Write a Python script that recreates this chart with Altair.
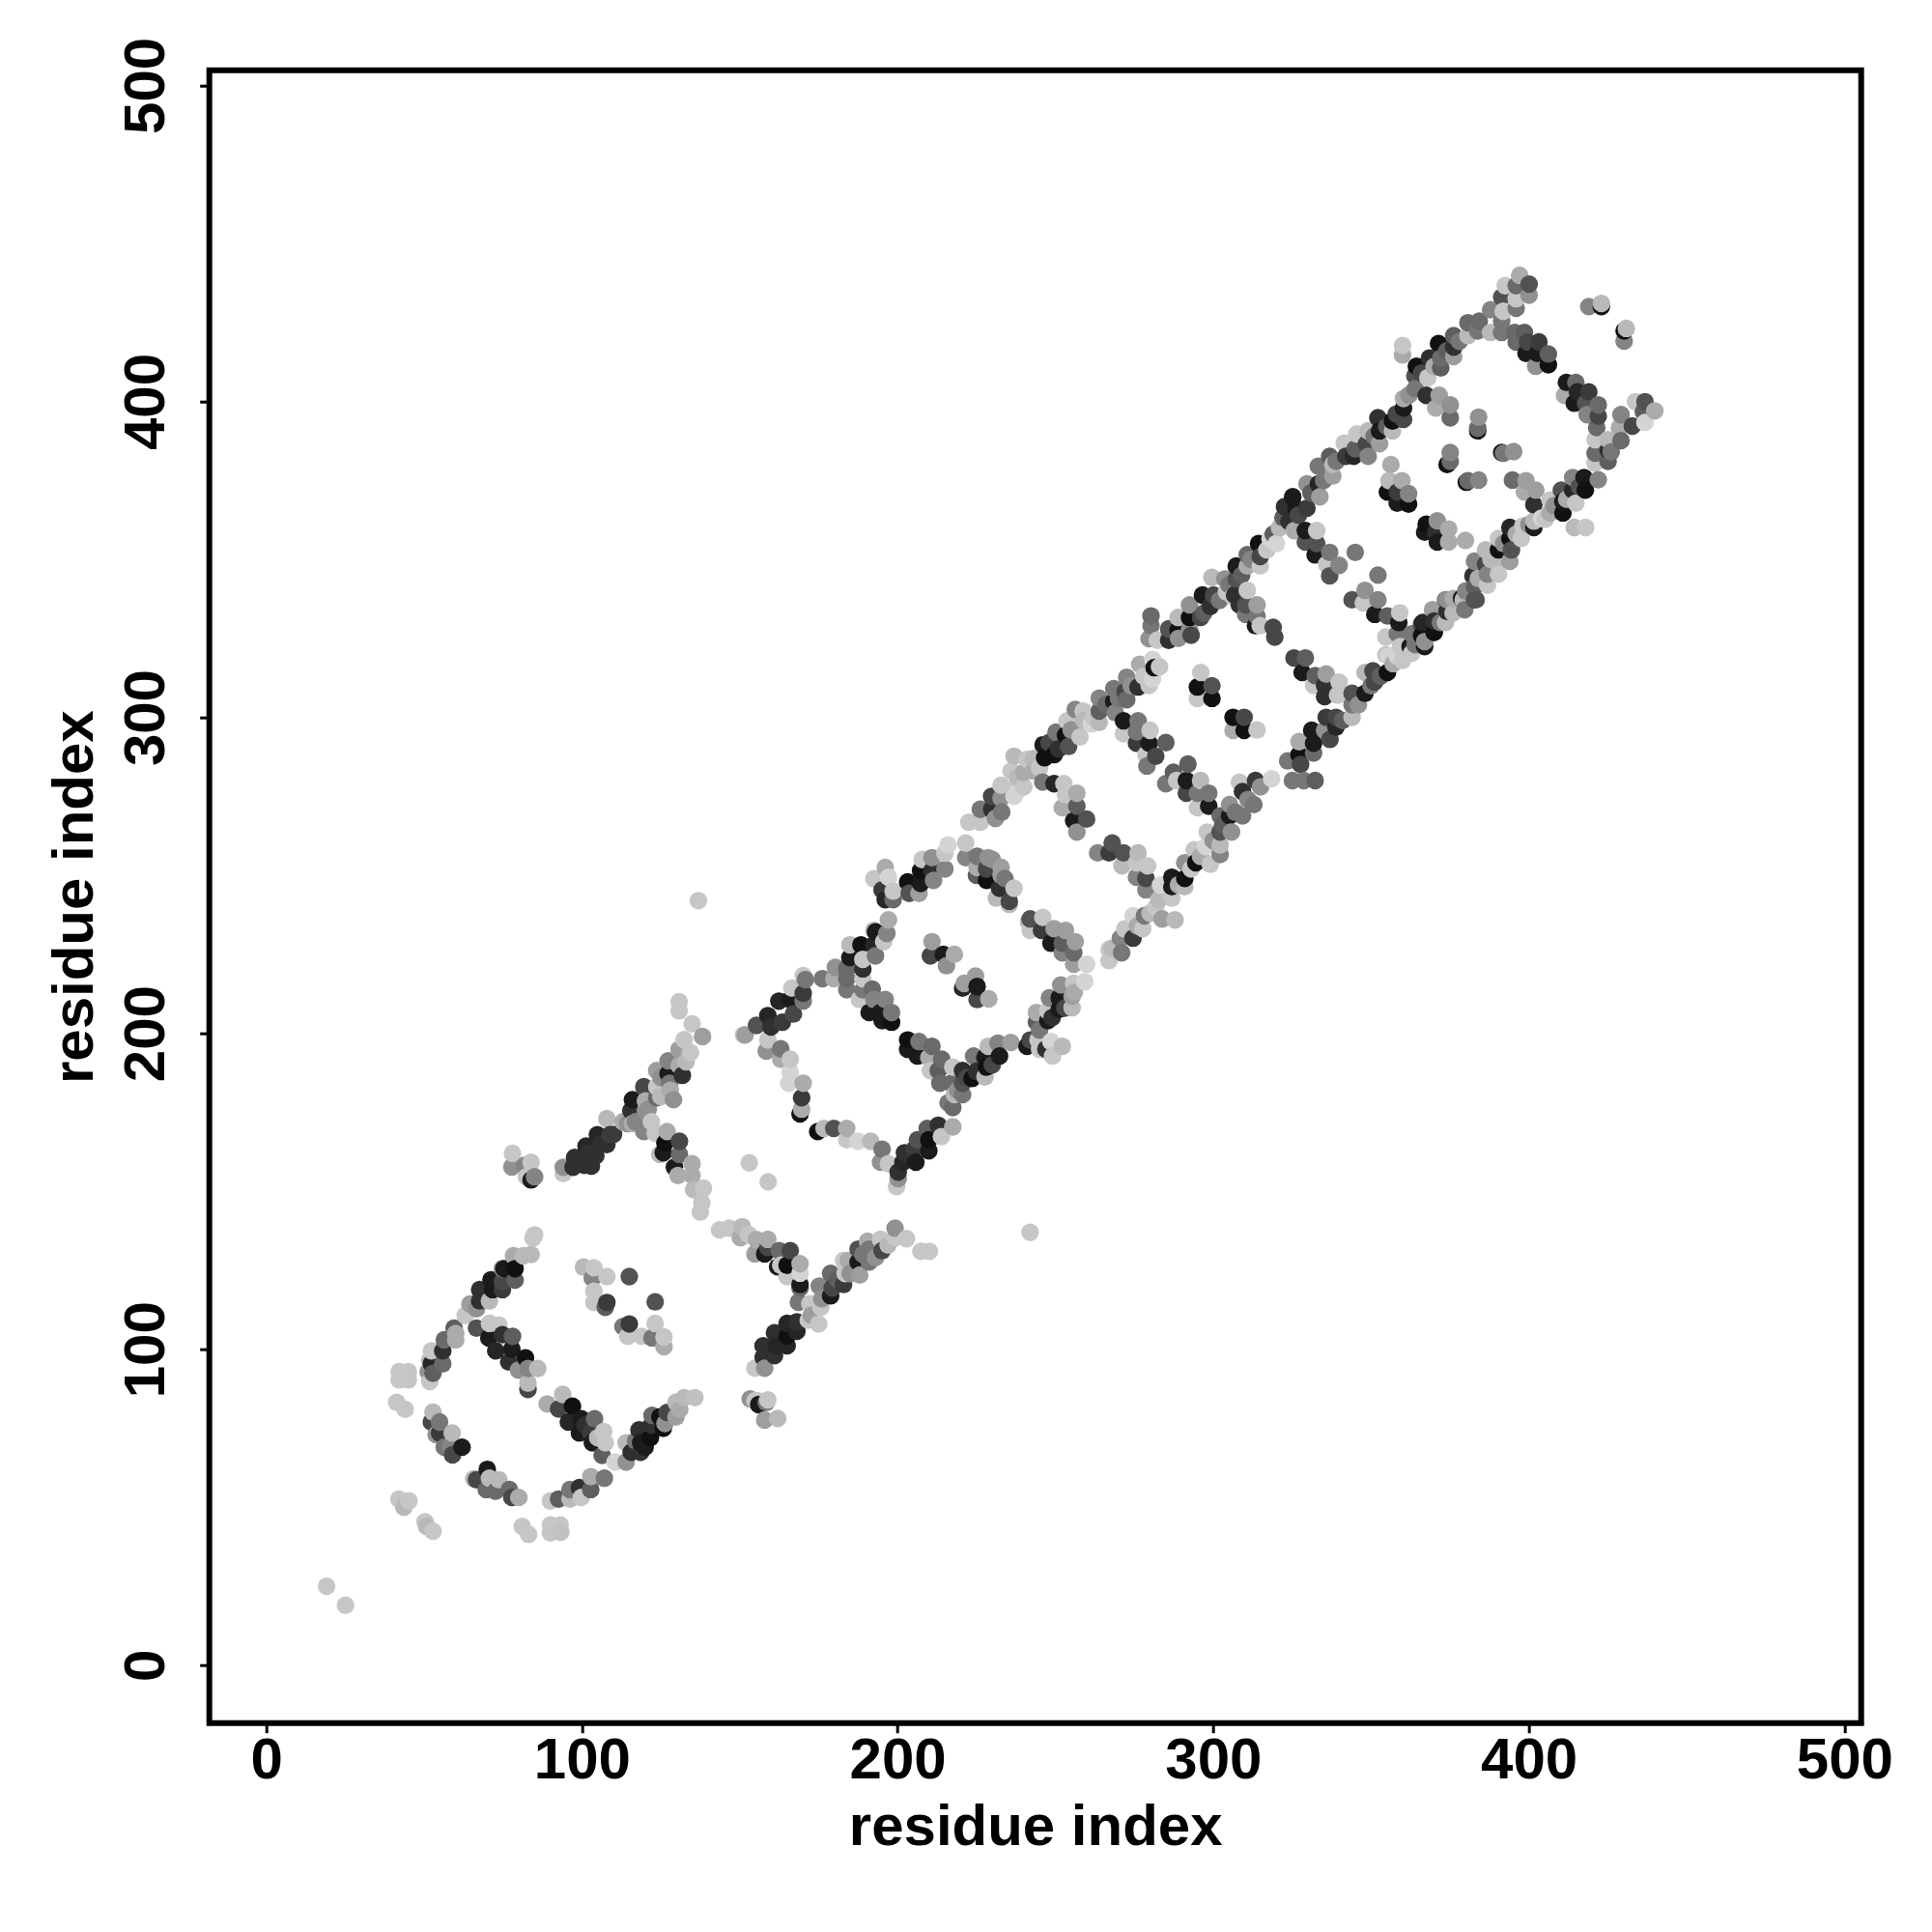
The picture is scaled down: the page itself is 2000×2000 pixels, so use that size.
import altair as alt
import pandas as pd

# (residue x, residue y, grey level), region by region
tail = [(19.1,25,.8),(25.1,19,.8),(42,52.6,.8),(45.2,52,.8),(43.6,50,.75),(50.3,45.4,.8),(52.8,42.4,.8),(50.8,44,.75),
 (81.1,43.9,.8),(83.1,41.4,.8),(90,44.4,.8),(93.1,44.4,.8),(90,41.9,.8),(93.3,42.1,.78),
 (42.1,92.9,.8),(45,92.9,.8),(42.1,90.3,.8),(45,90.3,.8),(41.3,83.2,.8),(44,81,.8)]
d1_bottom = [(65.7,59,.75),(66.6,58.7,.3),(70,62,.1),(69.7,55.6,.45),(70.7,59.2,.75),(73.7,58.7,.75),(72.7,55.1,.45),(77,55.6,.45),(77.8,53.1,.3),(80,53.1,.7),
 (90,52,.8),(92.6,52.6,.4),(96.2,52.6,.75),(99.8,53.1,.8),(96.2,55.6,.5),(99.2,56.2,.2),(102.8,59.7,.7),(102.8,55.6,.4),(107.1,59.2,.5)]
d1_left = [(52.8,80.1,.75),(52.3,77,.3),(54.9,77,.5),(53.8,73,.6),(54.9,73.5,.25),(56.4,69,.5),(58.9,73.5,.75),(58.4,69.4,.55),(59,66.6,.3),(62,69,.1),
 (51.8,89.8,.8),(51.3,92.9,.6),(52.8,92.4,.4),(52.3,95.4,.15),(51.8,96.5,.75),(55.9,95.4,.45),(55.9,99.5,.2),(52.3,99.5,.8),(56.4,103,.45),(59.5,106.7,.4),(60,105,.7),(60,103,.7),
 (64.5,114.3,.65),(63,110.7,.8),(66.6,106.7,.35),(66.6,112.8,.6),(67.6,118.9,.2),(67.6,115.3,.2),(70.7,115.3,.75),(71.2,122,.1),(71.7,118.9,.1),(74.8,118.9,.25),(74.8,121.4,.3),(74.8,125.5,.6),(75.3,125.5,.1),(78.8,125.5,.05),(78.8,121.9,.4),(78.3,129.6,.7),(81.4,129.6,.75),(83.9,130,.75),(84.5,135.2,.8),(85,136.2,.8)]
d1_down = [(70.7,108.2,.8),(73.7,107.7,.8),(70.5,103.6,.1),(74.8,104.6,.2),(78,104.1,.4),(72.7,99.5,.15),(77.8,100,.1),(76.8,96,.2),(82.1,97.3,.05),(79.9,93.4,.6),(82.9,93.9,.55),(86,93.9,.75),(82.9,87.3,.3),(82.9,89.3,.75),
 (89,82.7,.7),(93.9,85.7,.75),(92.6,81.1,.3),(97,82,.05),(95.7,77,.15),(99.8,78,.1),(104,78,.45),(99.2,73.5,.1),(102.8,73.5,.25),(103.3,70.4,.1),(106.9,74,.8),(107.4,70.4,.8),(106.4,66.4,.4),(110.5,64.3,.85),(114,64.3,.6),(114,70.4,.75),(115.6,67.4,.2),(118.6,67.4,.2),(118.1,74.5,.2),(121.7,72,.05),(118.6,70.4,.1),(122.2,79.1,.45),(124.7,78.6,.05),(125.8,75,.05),(126.3,76.5,.6),(129.8,83.2,.75),(129.8,78.6,.65),(132.4,84.7,.75),(135.8,84.7,.78)]
d1_centre = [(100.5,126,.75),(103.8,125.8,.8),(103.3,122.5,.55),(107.9,123,.8),(115,123,.35),(103.8,118.4,.8),(103.8,114.8,.8),(107.4,113.3,.4),(107.9,114.8,.25),(123.2,115,.35),(113,107.2,.5),(115,108,.25),(114.5,104.1,.8),(118.9,104.1,.8),(123.2,108.2,.8),(122.2,103.6,.5),(126,100.8,.7),(126,103.9,.8)]
d2_first = [(78,162,.8),(77.8,157.7,.6),(81.9,158.2,.55),(83.9,159.2,.8),(82.4,154.6,.8),(83.9,153.6,.1),(85,154.6,.55),
 (94.1,155.6,.8),(94.1,157.6,.6),(97.2,157.6,.2),(97.7,160.7,.2),(100.8,158.2,.2),(101.3,164.3,.15),(104.4,161.2,.2),(104.9,167.9,.15),(107.9,164.8,.2),(108.9,167.9,.25),(107.9,173,.75),
 (114.5,171.4,.6),(116,171.4,.7),(119.6,168.9,.55),(123.2,168.4,.8),(127,168.9,.7),(126.3,165.3,.05),(130.9,165.8,.3),(125.8,162.2,.1),(124.7,161.7,.75),(130.9,161.7,.45),(129.3,157.6,.1),(134.9,158.7,.7),(130.4,155,.7),(134.9,155,.7),(135.4,150.5,.75),(138.5,151,.8),(138,146.4,.8),(137.5,143.4,.8),
 (130.8,210,.8),(130.8,207.1,.8),(134.9,203,.8),(138.2,199,.65),(132.4,198,.8),(130.8,194.9,.65),(134.4,193.9,.8),(127.3,191.3,.55),(130.8,189.8,.7),(123.7,188.2,.65),(127.3,187.2,.1),(131.8,186.7,.2),(127.8,184.2,.5),(119.6,183.1,.3),(123.7,183.1,.8),(123.7,179.6,.45),(116,179,.1),(120.1,178.6,.7),(120.1,175.5,.6),(115.5,175.5,.2)]
isolated = [(136.9,242,.8),(153,159,.8),(159,153,.8),(242,137,.8)]
mid_left = [(143.6,137.8,.8),(146.7,138.3,.8),(150.8,138.8,.75),(150.2,135.3,.7),(152.8,136.3,.8),(155.3,134.7,.7),(158.9,134.8,.7),(154.8,130.2,.65),(157.9,130.2,.1),(158.9,132.2,.3),(162.5,131.2,.45),(166,131.2,.3),(162,126.1,.1),(163,126.6,.8),(165,126.6,.05),(169.1,127.1,.7),(165,123,.8),(169.1,120.5,.1),(169.1,124.1,.85),(169.1,119.4,.45)]
mid_right = [(175.2,120,.55),(168.6,114.9,.5),(172.2,114.4,.8),(172.7,110.8,.65),(175.7,113.3,.8),(178.8,124,.45),(179.3,119.4,.3),(178.8,116.9,.1),(182.9,120.5,.25),(183.4,124,.8),(188,123.5,.65),(182.9,128.1,.8),(184.4,128.1,.7),(187.5,127.6,.1),(187.5,131.7,.35),(191,127.6,.5),(191,131.7,.5),(195.1,131.2,.3),(190.5,134.2,.7),(194.6,134.8,.8),(199.2,138.3,.6),(199.2,135.3,.8),(202.8,135,.8),(207.4,131,.8),(210.1,131,.8)]
mid_dark = [(168.1,105.7,.15),(168.1,108.7,.2),(165,108.2,.15),(165,104.2,.05),(161,105.2,.2),(165,101.1,.15),(161.5,101.1,.15),(157.4,101.1,.2),(161,98,.2),(157.4,97.5,.2),(154.8,94,.8),(157.9,94,.6),(171.7,109.2,.8),(175,108,.8),
 (153.3,84.3,.6),(154.8,83.7,.8),(155.9,83.7,.8),(156,82.5,.1),(158.4,83.2,.5),(158.9,84,.8),(157.9,77.6,.65),(162,78.1,.75)]
d2_upper = [(151.2,199.5,.8),(151.7,199.5,.65),(155.3,202.5,.35),(158.9,205.6,.15),(159.9,202,.2),(163.5,203.5,.25),(162.4,210.2,.15),(166,210.7,.1),(167,206.1,.3),(166.5,214.3,.8),(170.1,210.2,.5),(170.1,212.7,.25),(170.1,218.3,.8),(170.8,217,.5),
 (176.2,217.3,.5),(179.8,217.3,.7),(180.3,220.9,.6),(183.9,220.4,.45),(183.9,217.3,.45),(183.9,213.8,.5),(184.9,228,.75),(184.9,224,.1),(188.4,228,.05),(189,223.4,.8),(189,220.4,.2),(189,217.3,.8),(192.5,232.6,.75),(193,232.1,.1),(192.5,228,.15),(193,224.5,.5),(195.6,229,.8),(196.6,231.6,.55),(197.1,235.9,.7)]
d2_left = [(158.9,197.9,.8),(158.4,194.4,.6),(163,195.1,.5),(166,191.8,.8),(163,191.8,.7),(166,187.7,.85),(165.5,184.2,.85),(170.1,184.2,.7),(169.6,179.6,.25),(169.6,176,.7),(169.1,174.5,.05),
 (174.7,168.9,.05),(176.7,169.9,.75),(179.8,169.9,.35),(183.9,169.9,.7),(183.9,166.3,.8),(187.4,165.8,.85),(191.5,165.8,.75),(195.1,163.3,.5),(194.6,159.2,.6),(197.1,158.7,.8),(199.7,151.5,.8),(200.2,154,.6),(200.2,156.1,.2),(202.2,162.2,.2),(201.7,159.2,.15),(205.8,159.2,.1),(205.3,163.3,.25),(209.9,162.8,.1),(206.3,166.3,.35),(209.9,166.3,.05),(209.4,169.9,.4),(212.9,170.9,.2),(213.9,167.3,.8),(217.5,170.4,.7)]
d2_down = [(189,213.8,.5),(192,214,.45),(187.9,210.7,.8),(192.5,210.7,.55),(196.1,210.7,.55),(191,206.6,.1),(194.6,206.6,.1),(198.1,206.6,.5),(195.1,204,.1),(198.1,203.5,.05),
 (203.2,197.9,.05),(203.2,194.9,.1),(206.3,192.8,.1),(206.8,197.4,.5),(210.9,195.9,.45),(209.9,192.3,.7),(214,191.8,.45),(212.9,188.2,.4),(210.4,188.2,.8),(217.5,189.3,.8),
 (217.5,176.5,.45),(218,180.6,.75),(220.6,180.6,.5),(213.4,184.2,.45),(217,184.2,.45),(220.6,188.2,.2),(223.6,185.7,.05),(220.6,184.2,.35),(227.7,186.2,.75),(224.1,192.8,.5),(228.2,189.3,.05),(227.7,192.3,.1),(232.3,192.8,.1),(228.7,195.9,.75),(231.8,196.9,.55),(235.9,197.1,.65)]
d2_centre = [(210.9,229,.65),(210.4,224.5,.3),(214.5,225,.1),(218,225,.7),(215.5,221.4,.6),(224.7,218.1,.65),(221.1,215.8,.65),(220.6,214.3,.15),(225.2,214.8,.1),(225.2,210.7,.3),(228.9,210.9,.7)]
d3_upper = [(192.5,248.9,.8),(196.1,252.5,.7),(197.1,249.4,.85),(195.1,245.4,.25),(196.1,242.3,.15),(198.6,245,.8),(198.6,242.3,.45),(203.2,247.9,.05),(203.7,244.3,.35),(206.8,244.3,.65),(207.3,247.4,.1),(207.3,251.5,.05),(207.8,255,.8),(210.9,255.6,.6),(210.9,251.5,.2),(211.4,248.4,.55),(215,252,.55),(215,257,.8),(216,259.6,.85),
 (222.6,266.8,.8),(226.2,266.8,.8),(226.2,270.9,.5),(229.8,270.9,.2),(229.8,275,.3),(232.8,274.4,.6),(236.9,275,.85),(232.8,278.5,.8),(237.4,278,.8)]
d3_down = [(221.6,260.2,.8),(221.6,255.6,.55),(225.2,256,.5),(228.7,255.6,.6),(225.2,252.5,.7),(228.2,252,.3),(232.8,252.5,.65),(228.2,248.4,.05),(232.3,245.9,.2),(232.8,250,.65),(236.9,245.9,.8),(231.3,242.8,.75),(235.4,241.8,.3),(235.4,240.8,.75),
 (242,236.2,.35),(241.5,235.2,.75),(246,236.7,.8),(242,232.6,.8),(245.6,232.6,.25),(249.6,233.1,.65),(253.2,232.6,.65),(248.6,228.5,.1),(252.2,228.5,.4),(256.3,229,.65),(252.2,225.5,.55),(255.8,225.5,.45),(255.8,221.9,.65),(259.9,221.9,.85)]
d3_lower = [(259.3,216.3,.85),(255.8,215.8,.8),(251.7,215.3,.6),(255.3,211.7,.65),(248.1,211.2,.55),(251.2,211.2,.1),(255.3,208.1,.75),(251.2,207.6,.1),(244,206.6,.7),(247.6,207.1,.8),(247.6,204,.1),(244,203.6,.4),
 (242,197.9,.3),(241,195.9,.1),(244.5,197.9,.8),(248.6,197.4,.85),(245,194.9,.8),(247,195,.2),(252.2,195.9,.75),(249.1,192.8,.8),(267,226.5,.8),(267,223,.8),(271,225.5,.5),(270.6,230.1,.55),(274.6,230.1,.25),(277.7,233.1,.8),(274.6,237.2,.85),(278.2,237.2,.5),(281.8,239.8,.8),(283.8,236.2,.65),(287.9,235.9,.75),(282.8,242.3,.75),(286.9,242.8,.8),(283.3,246.9,.85),(286.9,246.4,.1),(291,246.4,.75),(286.9,249.4,.1),(291,249,.05),(291,254,.6),(294.5,254,.05),(294,258.1,.8),(299.1,253.5,.8),(297.6,259.1,.85),(302.2,256.6,.55),(302.2,259.6,.75),(298.1,263.7,.8),(302.2,263.7,.35),(305.8,263.7,.6),(305.2,268.8,.1),(302.2,268.8,.45),(309.3,268.8,.5),(305.2,272.4,.6),(312.9,272.4,.5),(309.3,276.5,.2),(308.3,279.5,.8),(313.4,280,.25),(318.5,280.6,.85)]
d3_top = [(236.9,287.7,.75),(241,286.7,.8),(237.9,276.5,.85),(240,282.6,.7),(246.1,291.3,.1),(246.6,287.2,.05),(249.6,288.2,.05),(250.2,295.3,.5),(253.7,298.9,.8),(253.2,294.3,.05),(254.2,290.8,.35),(257.8,293.8,.8),(256.3,302.5,.55),(258.8,302,.8),(261.4,297.9,.85),(263.9,306.1,.55),(263.9,302,.4),(263.9,298.4,.75),(268.5,309.1,.5),(268.5,305,.1),(269,301.5,.55),(272.6,312.7,.55),(272.1,308.1,.3),(272.6,305.6,.45),(276.7,316.8,.7),(276.2,309.6,.2),(280.8,318.3,.85),(281.3,315.7,.05),(280.8,312.2,.85),(279.7,310.1,.8),
 (246,279.5,.5),(249.6,279,.15),(252.7,279,.8),(253.2,275.5,.8),(256.8,276,.7),(252.2,271.4,.7),(256.8,271.9,.4),(255.8,267.3,.1),(259.9,267.8,.35),(256.8,263.7,.6)]
d3_band = [(263.4,257.1,.55),(268,260.2,.35),(267,257.1,.25),(271.6,257.1,.35),(276.2,257.1,.75),(271.1,253,.75),(275.7,254,.8),(279.2,253,.8),(275.7,249.4,.55),(278.7,249,.3),(278.7,245.4,.55)]
d3_left = [(271.6,298.9,.1),(276.2,298.9,.5),(271.6,294.8,.8),(275.7,295.4,.5),(275.7,291.8,.25),(280,295.9,.8),(279.7,291.8,.1),(285,292,.4),(278.7,288.2,.8),(281.8,287.7,.3),(279,284.6,.5),
 (292,285.2,.4),(287.4,282.6,.4),(285,279,.5),(288.4,280,.8),(291.5,280,.1),(291.5,276,.3),(296,280,.75),(298.6,276,.5),(295,276,.5),(298.6,271.9,.1),(295,271.4,.8)]
d3_centre = [(296.1,314.2,.8),(295,309.6,.05),(299.6,310,.35),(295,306,.8),(299.6,306,.05),(306.3,300,.05),(309.8,300,.3),(306.3,295.9,.7),(309.8,295.9,.05),(313.9,296,.8)]
d4_upper = [(280.3,332.1,.45),(280.3,329,.5),(279.7,324.9,.6),(282.3,324.4,.8),(285.9,324.4,.2),(285.9,328,.35),(288.9,327.5,.05),(288.9,331.6,.75),(292.5,328,.6),(292.5,331.6,.05),(296,331.6,.3),(292.5,335.6,.6),(296.6,338.7,.1),(299.1,335.1,.2),(300.1,338.7,.3),(299.6,344.3,.75),(303.7,343.8,.6),(307.3,343.8,.35),(307.3,347.9,.1),(304.2,339.7,.8),(306.8,338.7,.2),(310.8,351.5,.45),(310.8,347.9,.7),(314.9,347.9,.8),(314.9,350.9,.3),(314.4,355,.05),(318,356.5,.85),(320,355,.85),(322.1,363.2,.4),(322.6,366.7,.2),
 (325.2,369.8,.1),(329.7,373.9,.6),(326.2,366.2,.1),(329.7,366.2,.25),(333.8,369.8,.65),(333.3,373.9,.15),(333.3,379.5,.5),(336.9,382.6,.4),(337.9,380,.75),(337.9,376.4,.65),(342,382.6,.25),(344.5,382.6,.15),(349.1,382.6,.55),(341.5,386.8,.8),(345.5,389.7,.8),(348.6,386.6,.3),(352.7,386.6,.65),(349.1,390.7,.75),(352.2,394.8,.2),(352.7,390.7,.1),(356.8,393.8,.05),(360.3,394.3,.3),(356.8,390.7,.75),(360.3,397.9,.1),(360.3,400.9,.7),(364.4,411.1,.05),(368,407.5,.8),(363.9,408.1,.35),(372.1,410.6,.4),(368.5,413.7,.2),(372.1,413.7,.45),(376.2,414.2,.65),(371.4,418.3,.05),(376.2,417.2,.2),(376.2,420.8,.4),(380.7,424.9,.45),(380.7,420.8,.75),(384.3,425.4,.45),(383.8,422.3,.5),(387.9,421.8,.75),(387.9,429,.55),(391.4,433,.35),(391.9,428.5,.8),(392.5,436.6,.8),(396,432.5,.8),(396,436.6,.45),(396,429.5,.5),(397.1,439.9,.7),(400.1,437.1,.35),(400.1,433.6,.6),(360,417.7,.8),(360,414.7,.7)]
d4_down = [(308.3,335.6,.2),(306.2,338.2,.8),(310.8,340.2,.8),(310.3,335.6,.35),(313.9,335.6,.65),(310.3,332.6,.5),(313.9,332,.5),(313.4,329,.1),(314.9,329,.8),(319,328.5,.3),(319.5,325.4,.3),
 (325.6,318.8,.3),(329.2,318.8,.4),(328.2,314.2,.1),(332.3,313.2,.4),(335.8,313.7,.65),(335.3,310.1,.2),(339.9,311.1,.8),(331.8,310.1,.8),(335.3,306.6,.2),(339.4,307,.8),(344,307.6,.35),(344,304,.5),(344,300,.75),(348.1,307.6,.1),(351.1,311.2,.3),(348.1,314.2,.75),(350.6,314.7,.3),(355.2,314.2,.05),(354.7,319.8,.8),(358.3,319.8,.85),(362.4,322.4,.1),(366.4,326.5,.05),(370,327,.05),(366.4,330,.15),(370,330.5,.2),(374.1,333.6,.35),(374.1,337.2,.6),(378.7,337.7,.1),(382.8,337.2,.35)]
d4_lower = [(338.9,296.9,.15),(335.8,300,.25),(338.9,300,.3),(331.2,295.9,.1),(335.3,295.9,.6),(331.8,291.8,.1),(327.2,292.3,.7),(327.2,288.2,.05),(331.8,288.7,.45),(327.7,285.1,.3),(323.6,286.2,.5),(325.1,280,.5),(328.7,280,.5),(332.3,280,.4)]
d4_left = [(332.8,359.1,.8),(329.2,359.1,.1),(325.7,359.1,.7),(332.8,355,.35),(329.2,355.5,.35),(336.9,352.2,.5),(332.3,351.4,.1),(335.9,348.4,.8),(339.9,348.1,.55),(336.9,344.8,.35),
 (345,352.2,.5),(352.2,345,.5),(348.1,340.2,.6),(344,337.2,.35),(347.6,336.2,.8),(352.2,337.2,.55),(351.2,332.6,.1),(355.2,332.1,.4),(359.1,333.1,.8),(358.8,330,.1),(358.3,326.5,.5),(354.7,325.4,.8)]
d4_centre = [(356.3,380,.7),(355.7,374.9,.75),(359.8,374.9,.7),(355.2,371.3,.05),(358.3,371.3,.25),(361.9,370.8,.55),(358.3,367.8,.1),(361.9,367.5,.05),(371.6,401.9,.65),(370.5,397.9,.7),(375.1,398.9,.6),(375.1,394.8,.45),(367.5,401.9,.2),
 (384.1,395,.6),(383.8,390.7,.05),(383.8,391.5,.45),(375.1,383.8,.55),(374.1,380,.05),(375.1,381,.45),(391.4,383.8,.1),(392,383.6,.5),(395.2,384.1,.6),(380.2,374.4,.05),(380.7,374.9,.45),(384.1,375.1,.55),(394.8,375.1,.45),(399.1,374.9,.65),(398.6,371.3,.7),(402.2,371.9,.65),(401.6,367.3,.2),
 (367.5,361.1,.05),(367,358.6,.1),(371,362.2,.6),(370.5,358.6,.2),(371,355.5,.1),(374.6,359.6,.7),(374.6,355.5,.7),(379.9,356,.7)]
d4_right = [(391.4,425.4,.5),(391.4,421.8,.5),(395.5,421.8,.45),(398.6,421.8,.4),(396,418.8,.45),(399.6,418.8,.3),(403.2,418.8,.25),(399.1,415.2,.1),(402.7,415.2,.1),(406.2,415,.4),(402.2,411.1,.6),(406.2,411.6,.05),
 (411.9,406,.1),(414.9,406,.45),(411.3,401.9,.7),(415.4,403,.15),(419,403,.25),(414.4,399.4,.1),(418,399.4,.35),(422,398.9,.45),(418.5,395.8,.55),(422,395.3,.3),(421.5,391.7,.45),(421,387.9,.8),(425.1,387.9,.75),(425.1,384.6,.2),(421,383.6,.45),(426.1,384,.5),(429.2,387.6,.45),(429.2,395.8,.55),(428.7,391.7,.7),(432.8,392.2,.3),(436.8,393.3,.85),(433.8,399.9,.8),(436.8,399.9,.35),(436.3,396.8,.4),(439.9,397,.7),(421,380.5,.8),(425.1,381,.4),
 (419,430,.55),(423,430,.05),(423,431,.75),(430.2,422.3,.05),(430.9,423.1,.75),(430.2,419.1,.55)]
d4_end = [(413.9,375.9,.55),(417.5,375.9,.1),(422,375.2,.55),(410.3,371.9,.35),(413.9,371.9,.15),(417.9,371.9,.05),(414.9,367.8,.8),(410.8,368.3,.1),(410.8,364.7,.05),(406.7,368.8,.8),(406.7,364.7,.7),(414.4,360.1,.75),(418,360.1,.8),(401.6,362.1,.75),(405.2,362.7,.8),(401.6,360.1,.1),(398.1,360.6,.8),(394,360.1,.15),(394,356.6,.05),(397.6,356.6,.8),(390.4,356.6,.8),(394.5,353,.35),(390.4,353,.05),(386.3,353,.75),(390.4,345.3,.8),(394,349.4,.65),(389.9,348.9,.75),(386.3,348.4,.3),(382.8,349.4,.55),(382.3,344.8,.2),(386.9,345.3,.55),(386.9,341.8,.8),(382.8,341.3,.4),
 (383.3,337.2,.35),(379.2,337.2,.75),(379.7,334.1,.5),(376.1,337.6,.7),(373.6,337.2,.5),(374.1,333.6,.2),(373.6,330,.75),(369.5,334.1,.65),(370,326.9,.05),(366,329.5,.3),(366,325.9,.05),(367,322.4,.1),(362.9,326.4,.5),(359.3,322.4,.8),(362.9,320.3,.8),(358.3,319.3,.8),(355.7,319.3,.85)]
# further marks seen in the denser parts of the bands
dense_low = [(99,160,.2),(102,162,.2),(103,158,.2),(106,165,.2),(110,168,.25),(113,172,.7),(117,172,.55),(121,176,.6),(122,172,.8),(125,180,.75),(125,186,.6),(128,182,.7),(129,179,.6),(133,191,.75),
 (101,76,.2),(105,72,.75),(117,71,.5),(120,69,.1),(122,76,.2),(127,80,.3),(131,81,.7),
 (176,116,.6),(181,122,.4),(185,124,.6),(189,130,.5),(193,129,.6),(197,133,.75)]
dense_mid = [(216,178,.5),(219,182,.6),(222,186,.3),(225,188,.2),(230,190,.3),(225,250,.4),(230,255,.6),(234,249,.5),
 (231,268,.6),(233,270,.5),(236,283,.8),(238,281,.75),(240,278,.8),(243,283,.7),(243,287,.75),(245,284,.8),(245,201,.5),(249,205,.2),(253,208,.3),(256,213,.7),
 (248,292,.3),(251,290,.2),(255,296,.6),(259,299,.75),(262,300,.8),(266,304,.45),(270,306,.5),(274,310,.6),(278,313,.8),(283,316,.8),
 (268,227,.75),(272,233,.8),(276,234,.7),(280,238,.75)]
dense_high = [(289,325,.6),(293,326,.3),(297,333,.4),(302,337,.5),(305,342,.5),(309,345,.4),(312,350,.55),(317,353,.8),(319,358,.4),(321,360,.75),(324,362,.2),(327,364,.3),
 (331,371,.4),(335,375,.5),(339,381,.5),(345,385,.4),(351,389,.5),(355,392,.4),(358,396,.3),(362,402,.6),(364,404,.5),(366,409,.3),(370,411,.7),(374,416,.4),(378,419,.5),
 (289,247,.7),(293,252,.8),(296,256,.7),(300,261,.6),(303,266,.4),(307,270,.5),(311,274,.55),(315,278,.6),
 (337,293,.3),(341,299,.4),(346,304,.6),(350,310,.5),(353,313,.4),(357,317,.7),(360,318,.8),(364,323,.5),
 (367,324,.6),(372,330,.5),(376,333,.75),(380,340,.55),(384,344,.7),(388,350,.75),(392,355,.6),(396,358,.7),(400,361,.6),(404,363,.85),(408,367,.6),(412,369,.7),(416,373,.35)]

regions = [tail, d1_bottom, d1_left, d1_down, d1_centre, d2_first, isolated, mid_left, mid_right, mid_dark,
           d2_upper, d2_left, d2_down, d2_centre, d3_upper, d3_down, d3_lower, d3_top, d3_band, d3_left,
           d3_centre, d4_upper, d4_down, d4_lower, d4_left, d4_centre, d4_right, d4_end,
           dense_low, dense_mid, dense_high]
rows = [p for r in regions for p in r]
df = pd.DataFrame(rows, columns=["x", "y", "g"]).sort_values(["x", "y"], kind="stable")

ticks = [0, 100, 200, 300, 400, 500]
FONT = "Liberation Sans"

points = alt.Chart(df).mark_circle(size=335, opacity=1).encode(
    x=alt.X("x:Q", scale=alt.Scale(domain=[-18.05, 505.3], nice=False, zero=False),
            axis=alt.Axis(values=ticks, title="residue index", grid=False, domain=False, tickSize=10, tickWidth=3,
                          tickColor="black", labelColor="black", labelFont=FONT, labelFontSize=60, labelFontWeight="bold",
                          labelPadding=0, labelFlush=False, labelOverlap=False, titleFont=FONT, titleFontSize=60, titleFontWeight="bold",
                          titleColor="black", titlePadding=10)),
    y=alt.Y("y:Q", scale=alt.Scale(domain=[-18.3, 504.8], nice=False, zero=False),
            axis=alt.Axis(values=ticks, title="residue index", grid=False, domain=False, tickSize=10, tickWidth=3,
                          tickColor="black", labelColor="black", labelFont=FONT, labelFontSize=60, labelFontWeight="bold",
                          labelAngle=270, labelAlign="center", labelBaseline="bottom", labelPadding=24, labelFlush=False, labelOverlap=False,
                          titleFont=FONT, titleFontSize=60, titleFontWeight="bold", titleColor="black", titlePadding=13)),
    color=alt.Color("g:Q", scale=alt.Scale(domain=[0, 1], range=["#000000", "#ffffff"]), legend=None),
)

chart = points.properties(
    width=1710, height=1711,
    autosize=alt.AutoSizeParams(type="none"),
    padding={"left": 208.7, "top": 64.7, "right": 60, "bottom": 200},
    background="white",
).configure_view(stroke="black", strokeWidth=6, fill="white")

chart.save("out.html", embed_options={"renderer": "svg", "actions": False})
